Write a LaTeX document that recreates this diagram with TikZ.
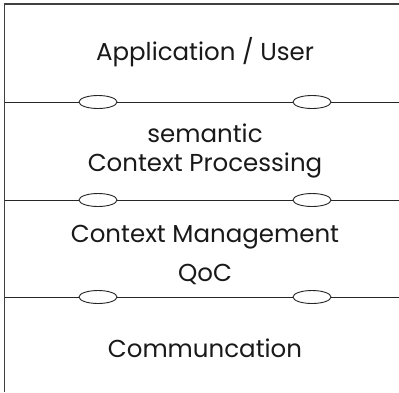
\documentclass[tikz,border=0pt]{standalone}
\usepackage{fontspec}
\setmainfont{Poppins}
\usetikzlibrary{shapes.geometric}
\begin{document}
\begin{tikzpicture}[x=1pt,y=-1pt,
  frame/.style={draw=black!75,line width=1.3pt},
  sep/.style={draw=black!85,line width=0.9pt},
  port/.style={ellipse,draw=black!85,line width=0.9pt,fill=white,minimum width=38pt,minimum height=13pt,inner sep=0pt},
  lbl/.style={anchor=base,inner sep=0pt,text=black!90,font=\fontsize{24.5}{24.5}\selectfont}]
\useasboundingbox (0,0) rectangle (399,392);
\coordinate (tl) at (4.5,4);
\coordinate (tr) at (399,4);
\coordinate (bl) at (4.5,392);
\draw[frame] (tr) -- (tl) -- (bl);
\foreach \i/\y in {1/102,2/200,3/297}{
  \coordinate (l\i) at (4.5,\y);
  \coordinate (r\i) at (399,\y);
  \node[port] (a\i) at (98,\y) {};
  \node[port] (b\i) at (312,\y) {};
  \draw[sep] (l\i) -- (a\i) (a\i) -- (b\i) (b\i) -- (r\i);
}
\node[lbl] (app) at (205,60.7) {Application / User};
\node[lbl] (sem) at (205,142) {semantic};
\node[lbl] (cp) at (205,171) {Context Processing};
\node[lbl] (cm) at (205,242) {Context Management};
\node[lbl] (qoc) at (205,281) {QoC};
\node[lbl] (com) at (205,357) {Communcation};
\end{tikzpicture}
\end{document}
